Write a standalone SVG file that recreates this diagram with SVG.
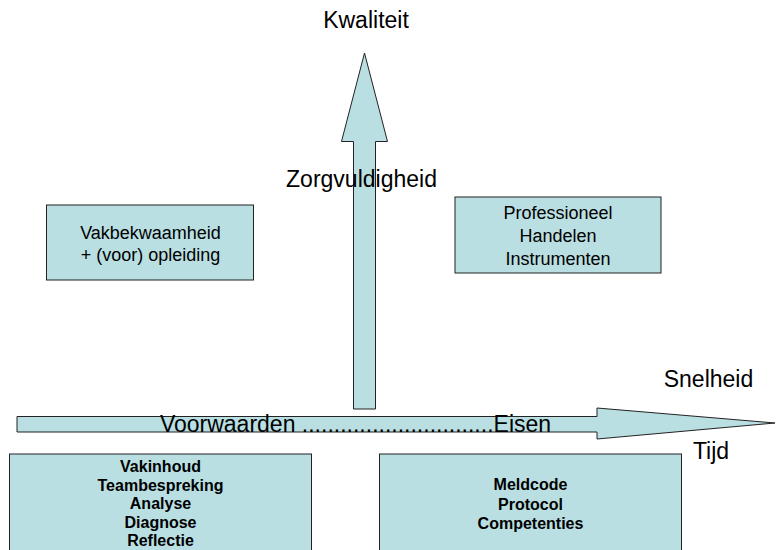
<svg xmlns="http://www.w3.org/2000/svg" width="776" height="550" viewBox="0 0 776 550">
<style>
.shape{fill:#B9DFE2;stroke:#222;stroke-width:1}
text{font-family:"Liberation Sans",Arial,sans-serif;fill:#000;text-anchor:middle}
.b{font-weight:bold;font-size:16px}
.m{font-size:18px}
.l{font-size:23px}
</style>
<rect width="776" height="550" fill="#fff"/>
<g id="connectors">
<polygon id="arrow-up" class="shape" points="353.5,409 353.5,141.5 341.5,141.5 364.5,53 387.5,141.5 375.5,141.5 375.5,409"/>
<polygon id="arrow-right" class="shape" points="17,416.5 597,416.5 597,408 775,423 597,439 597,432 17,432"/>
</g>
<text class="l" x="366" y="28">Kwaliteit</text>
<text class="l" x="361.5" y="187">Zorgvuldigheid</text>
<text class="l" x="708.5" y="387">Snelheid</text>
<text class="l" x="355.5" y="432" font-size="23.5">Voorwaarden ..............................Eisen</text>
<text class="l" x="711" y="459">Tijd</text>
<g id="vakbekwaamheid">
<rect class="shape" x="46.5" y="205" width="207" height="75"/>
<text class="m" x="150.5" y="239">Vakbekwaamheid</text>
<text class="m" x="150.5" y="261">+ (voor) opleiding</text>
</g>
<g id="professioneel">
<rect class="shape" x="455" y="197" width="206" height="76"/>
<text class="m" x="558" y="219">Professioneel</text>
<text class="m" x="558" y="242">Handelen</text>
<text class="m" x="558" y="265">Instrumenten</text>
</g>
<g id="vakinhoud">
<rect class="shape" x="9.5" y="454" width="302" height="100"/>
<text class="b" x="160.5" y="472">Vakinhoud</text>
<text class="b" x="160.5" y="490.5">Teambespreking</text>
<text class="b" x="160.5" y="509">Analyse</text>
<text class="b" x="160.5" y="527.5">Diagnose</text>
<text class="b" x="160.5" y="546">Reflectie</text>
</g>
<g id="meldcode">
<rect class="shape" x="379.5" y="454" width="302" height="100"/>
<text class="b" x="530.5" y="490">Meldcode</text>
<text class="b" x="530.5" y="509.5">Protocol</text>
<text class="b" x="530.5" y="529">Competenties</text>
</g>
</svg>
